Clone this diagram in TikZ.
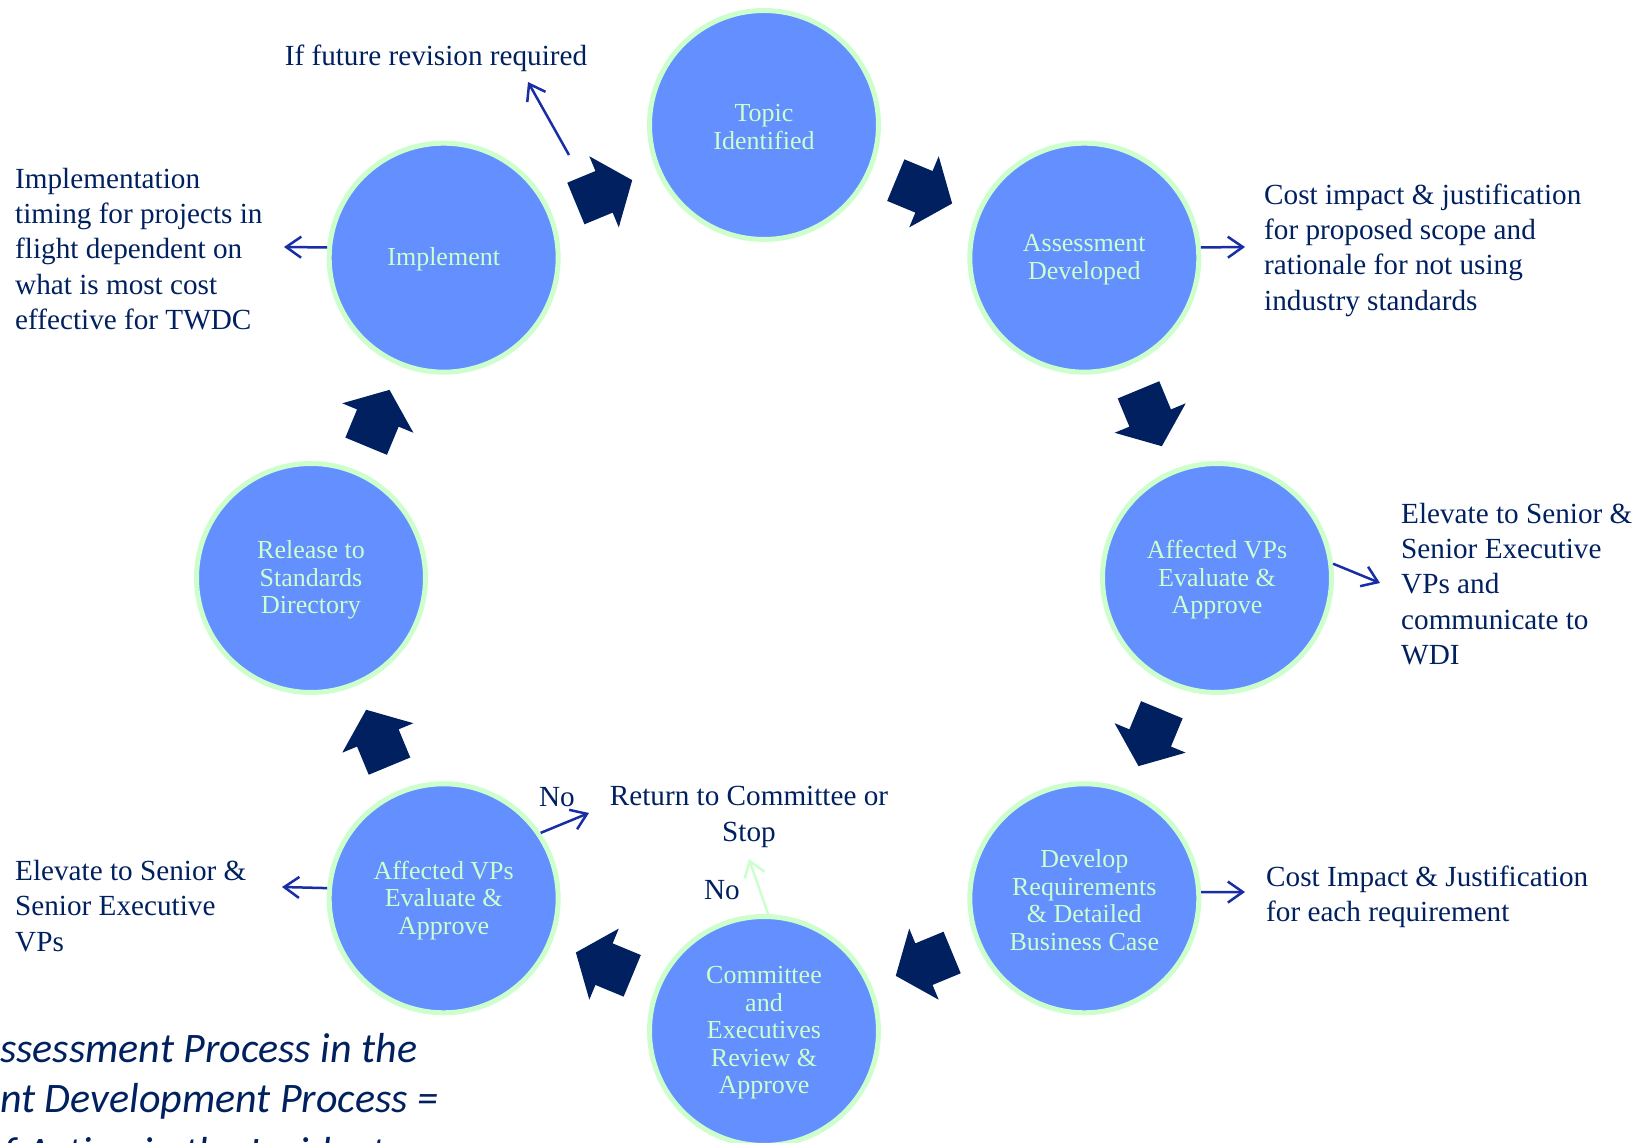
\documentclass[tikz,border=0pt]{standalone}
\usepackage{fontspec}
\setmainfont{Liberation Serif}
\newfontfamily\calfont{Carlito}
\usetikzlibrary{arrows.meta}
\definecolor{navy}{HTML}{002060}
\definecolor{fillblue}{RGB}{99,143,255}
\definecolor{mint}{HTML}{CCFFCC}
\definecolor{linkblue}{RGB}{25,45,165}
\begin{document}
\begin{tikzpicture}[x=1pt,y=1pt,
  stage/.style={circle, fill=fillblue, draw=mint, line width=5pt, minimum size=229pt, inner sep=0pt},
  stagetext/.style={align=center, text=mint, inner sep=0pt, yshift=-2pt, font=\fontsize{26}{27.5}\selectfont},
  lbl/.style={text=navy, align=left, inner sep=0pt, font=\fontsize{29.2}{35.3}\selectfont},
  link/.style={draw=linkblue, line width=2.5pt, -{Straight Barb[length=15pt,width=21pt]}},
  greenlink/.style={link, draw=mint},
  flowarrow/.style={fill=navy},
  note/.style={text=navy, inner sep=0pt, anchor=base west, font=\calfont\itshape\fontsize{42}{50}\selectfont}
]
\useasboundingbox (0,0) rectangle (1650,1143);
\clip (0,0) rectangle (1650,1143);
\coordinate (ctr) at (764,565);

% stages
\node[stage, label={[stagetext]center:Topic\\Identified}] (topic) at ([shift={(90:453)}]ctr) {};
\node[stage, label={[stagetext]center:Assessment\\Developed}] (assess) at ([shift={(45:453)}]ctr) {};
\node[stage, label={[stagetext]center:Affected VPs\\Evaluate \&\\Approve}] (avpR) at ([shift={(0:453)}]ctr) {};
\node[stage, label={[stagetext]center:Develop\\Requirements\\\& Detailed\\Business Case}] (dev) at ([shift={(-45:453)}]ctr) {};
\node[stage, label={[stagetext]center:Committee\\and\\Executives\\Review \&\\Approve}] (comm) at ([shift={(-90:453)}]ctr) {};
\node[stage, label={[stagetext]center:Affected VPs\\Evaluate \&\\Approve}] (avpL) at ([shift={(-135:453)}]ctr) {};
\node[stage, label={[stagetext]center:Release to\\Standards\\Directory}] (release) at ([shift={(180:453)}]ctr) {};
\node[stage, label={[stagetext]center:Implement}] (impl) at ([shift={(135:453)}]ctr) {};

% block arrows between stages
\foreach \a in {112.5,67.5,22.5,-22.5,-67.5,-112.5,-157.5,157.5}
  \fill[flowarrow, shift={(ctr)}, shift={(\a:418)}, rotate=\a-90]
    (-30.5,-22.5) -- (0,-22.5) -- (0,-38.5) -- (30.5,0) -- (0,38.5) -- (0,22.5) -- (-30.5,22.5) -- cycle;

% connector end points
\coordinate (implEnd) at (284,896);
\coordinate (assessEnd) at (1245,896);
\coordinate (avpREnd) at (1380,560);
\coordinate (devEnd) at (1245,251);
\coordinate (avpLEnd) at (282,256);
\coordinate (noEnd) at (589,330);
\coordinate (commEnd) at (749,284);
\coordinate (revStart) at (569,988);
\coordinate (revEnd) at (528,1061);

\draw[link] (impl.175) -- (implEnd);
\draw[link] (assess.5) -- (assessEnd);
\draw[link] (avpR.7) -- (avpREnd);
\draw[link] (dev.3) -- (devEnd);
\draw[link] (avpL.175) -- (avpLEnd);
\draw[link] (avpL.34) -- (noEnd);
\draw[greenlink] (comm.88) -- (commEnd);
\draw[link] (revStart) -- (revEnd);

% labels
\node[lbl, anchor=west] (implTxt) at (15,894) {Implementation\\timing for projects in\\flight dependent on\\what is most cost\\effective for TWDC};
\node[lbl, anchor=west] (costTxt) at (1264,893) {Cost impact \& justification\\for proposed scope and\\rationale for not using\\industry standards};
\node[lbl, anchor=west] (elevR) at (1401,559) {Elevate to Senior \&\\Senior Executive\\VPs and\\communicate to\\WDI};
\node[lbl, anchor=west] (costReq) at (1266,246) {Cost Impact \& Justification\\for each requirement};
\node[lbl, anchor=west] (elevL) at (15,237) {Elevate to Senior \&\\Senior Executive\\VPs};
\node[lbl, align=center] (ret) at (749,326) {Return to Committee or\\Stop};
\node[lbl] (no1) at (557,346) {No};
\node[lbl] (no2) at (722,253) {No};
\node[lbl] (rev) at (436,1085) {If future revision required};

% italic note (cut off by the page edge)
\node[note] (note1) at (0,80) {ssessment Process in the};
\node[note] (note2) at (0,30) {nt Development Process =};
\node[note] (note3) at (-18,-24) {of Action in the Incident};
\end{tikzpicture}
\end{document}
